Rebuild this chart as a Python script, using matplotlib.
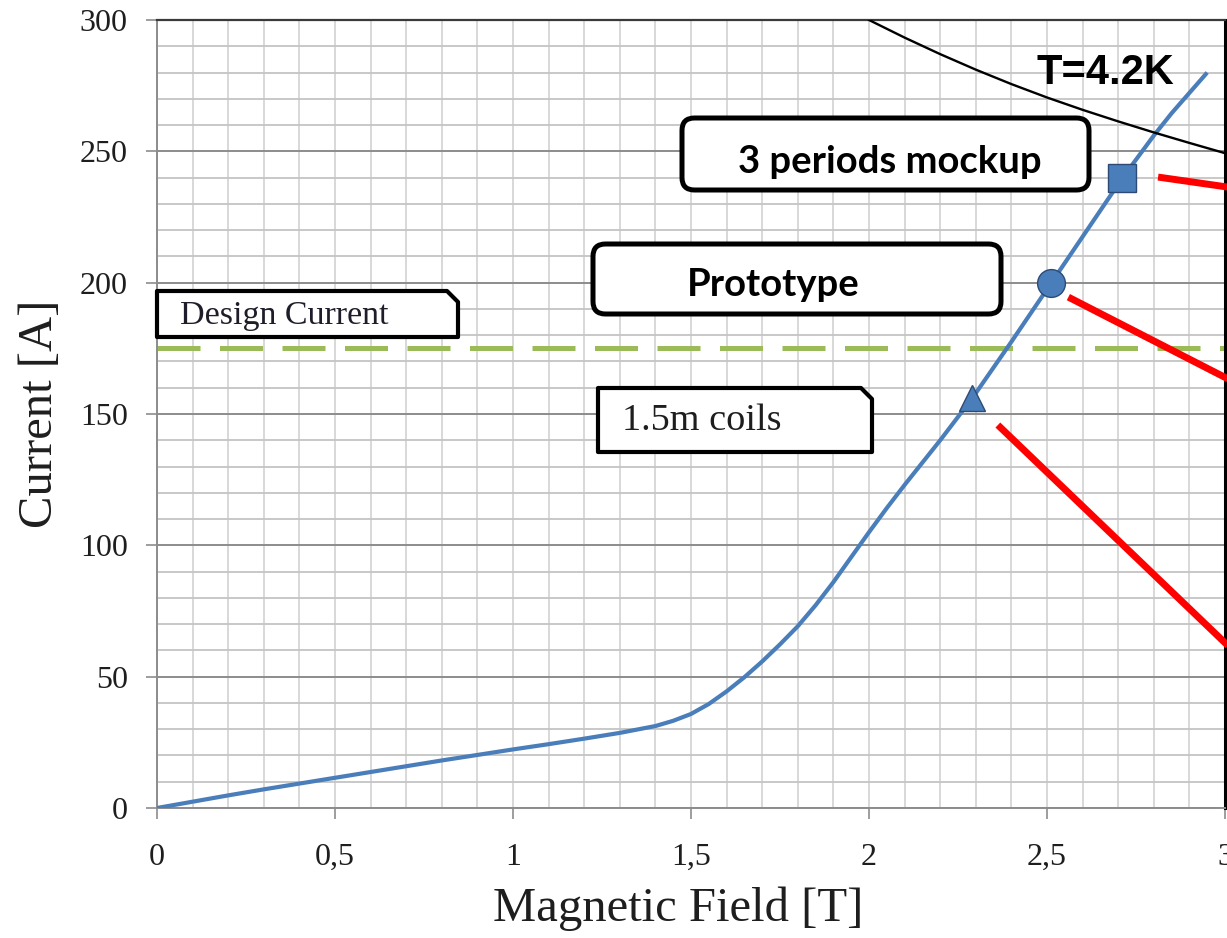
"""Critical current of the coil conductor vs. magnetic field, with test points."""
import matplotlib
matplotlib.use("Agg")
import matplotlib.pyplot as plt
from matplotlib.patches import FancyBboxPatch, Polygon
from matplotlib.ticker import MultipleLocator, FuncFormatter

# Load line of the coil (field on conductor vs. current)
field = [0, 0.1, 0.2, 0.3, 0.4, 0.5, 0.6, 0.7, 0.8, 0.9, 1.0, 1.1, 1.2, 1.3,
         1.4, 1.45, 1.5, 1.55, 1.6, 1.65, 1.7, 1.75, 1.8, 1.85, 1.9, 1.95,
         2.0, 2.05, 2.1, 2.2, 2.29, 2.4, 2.51, 2.6, 2.71, 2.8, 2.85, 2.95]
current = [0, 2.4, 4.8, 7.1, 9.3, 11.5, 13.7, 15.9, 18.1, 20.2, 22.3, 24.3,
           26.4, 28.6, 31.2, 33.2, 35.8, 39.6, 44.4, 49.8, 55.8, 62.3, 69.2,
           77.2, 86.0, 95.5, 105.0, 114.2, 123.0, 140.0, 156.0, 177.5, 199.5,
           217.5, 239.5, 256.0, 264.5, 280.0]

# Critical surface at T = 4.2 K
crit_field = [2.0, 2.1, 2.2, 2.3, 2.4, 2.5, 2.6, 2.7, 2.8, 2.9, 3.0]
crit_current = [300, 293.3, 287.0, 281.1, 275.6, 270.5, 265.8, 261.4,
                257.2, 253.2, 249.3]

# Tested objects on the load line
coils_pt = (2.29, 156)
proto_pt = (2.51, 200)
mockup_pt = (2.71, 240)

design_current = 175

# Pointer lines leaving the plot to the right
pointer_x = [(2.812, 3.1), (2.56, 3.1), (2.362, 3.1)]
pointer_y = [(240.2, 234.6), (194.5, 157.0), (145.8, 49.9)]

W, H = 1227, 938
X0, X1, Y0, Y1 = 157, 1225, 808, 20
SERIF = "Liberation Serif"
SANS_BOLD = "Lato"
INK = "#1e1e1e"

fig = plt.figure(figsize=(W / 100, H / 100), dpi=100)
ax = fig.add_axes([X0 / W, 1 - Y0 / H, (X1 - X0) / W, (Y0 - Y1) / H])
ax.set_xlim(0, 3)
ax.set_ylim(0, 300)

# grid: light verticals every 0.1 T, horizontals every 10 A, darker every 50 A
ax.xaxis.set_major_locator(MultipleLocator(0.5))
ax.xaxis.set_minor_locator(MultipleLocator(0.1))
ax.yaxis.set_major_locator(MultipleLocator(50))
ax.yaxis.set_minor_locator(MultipleLocator(10))
ax.grid(which="both", axis="x", color="#d6d6d6", lw=1.3)
ax.grid(which="minor", axis="y", color="#c4c4c4", lw=1.3)
ax.grid(which="major", axis="y", color="#8c8c8c", lw=1.4)
ax.set_axisbelow(True)

ax.xaxis.set_major_formatter(FuncFormatter(lambda v, p: f"{v:g}".replace(".", ",")))
ax.tick_params(which="minor", length=0)
ax.tick_params(which="major", direction="out", length=8, width=1.2, color="#8c8c8c",
               labelsize=23, labelcolor=INK)
ax.tick_params(axis="y", pad=13)
ax.tick_params(axis="x", pad=17)
for lab in ax.get_xticklabels() + ax.get_yticklabels():
    lab.set_fontfamily(SERIF)

for side in ("left", "bottom"):
    ax.spines[side].set_color("#8c8c8c")
    ax.spines[side].set_linewidth(1.4)
ax.spines["top"].set_color("#3a3a3a")
ax.spines["top"].set_linewidth(1.6)
ax.spines["right"].set_color("black")
ax.spines["right"].set_linewidth(2.2)

ax.set_xlabel("Magnetic Field [T]", fontsize=35, family=SERIF, color=INK)
ax.set_ylabel("Current [A]", fontsize=35, family=SERIF, color=INK)
ax.xaxis.set_label_coords((678 - X0) / (X1 - X0), -0.100)
ax.yaxis.set_label_coords((62 - X0) / (X1 - X0), 0.5)

# design current
dash = ax.axhline(design_current, color="#9bbb59", lw=3.6, zorder=2)
dash.set_dashes((8.6, 3.9))

ax.plot(field, current, color="#4a7ebb", lw=3.0, zorder=3, solid_capstyle="butt",
        solid_joinstyle="round")
ax.plot(crit_field, crit_current, color="black", lw=1.7, zorder=3,
        solid_joinstyle="round")

mk = dict(color="#4a7ebb", markeredgecolor="#2c4a73", markeredgewidth=1.0,
          linestyle="none", zorder=6)
ax.plot(*coils_pt, marker="^", markersize=19, **mk)
ax.plot(*proto_pt, marker="o", markersize=20, **mk)
ax.plot(*mockup_pt, marker="s", markersize=20, **mk)

for xs, ys in zip(pointer_x, pointer_y):
    ax.plot(xs, ys, color="red", lw=5, solid_capstyle="butt", clip_on=False, zorder=6)

# pixel -> data helpers for placing the label boxes
sx = (X1 - X0) / 3.0
sy = (Y0 - Y1) / 300.0


def px(x):
    return (x - X0) / sx


def py(y):
    return (Y0 - y) / sy


def rounded_box(x0, x1, y0, y1):
    patch = FancyBboxPatch((px(x0), py(y1)), px(x1) - px(x0), py(y0) - py(y1),
                           boxstyle="round,pad=0,rounding_size=0.035",
                           mutation_aspect=sx / sy, facecolor="white",
                           edgecolor="black", lw=3.6, zorder=5, clip_on=False)
    ax.add_patch(patch)


def snipped_box(x0, x1, y0, y1, cut=11):
    pts = [(px(x0), py(y1)), (px(x1), py(y1)), (px(x1), py(y0 + cut)),
           (px(x1 - cut), py(y0)), (px(x0), py(y0))]
    ax.add_patch(Polygon(pts, closed=True, facecolor="white", edgecolor="black",
                         lw=3.0, joinstyle="round", zorder=5, clip_on=False))


rounded_box(682, 1089, 118, 190)
ax.text(px(890), py(162), "3 periods mockup", fontsize=27.5, family=SANS_BOLD,
        weight="bold", ha="center", va="center", zorder=7)

rounded_box(593, 1001, 244, 314)
ax.text(px(773), py(285), "Prototype", fontsize=27.5, family=SANS_BOLD,
        weight="bold", ha="center", va="center", zorder=7)

snipped_box(157, 458, 291, 337)
ax.text(px(180), py(316), "Design Current", fontsize=24.5, family=SERIF,
        color="#1e1e2a", ha="left", va="center", zorder=7)

snipped_box(598, 872, 388, 452)
ax.text(px(622), py(421), "1.5m coils", fontsize=27.5, family=SERIF,
        color=INK, ha="left", va="center", zorder=7)

ax.text(px(1105), py(73), "T=4.2K", fontsize=30, family="Liberation Sans",
        weight="bold", ha="center", va="center", zorder=7)

fig.savefig("out.png", dpi=100)
